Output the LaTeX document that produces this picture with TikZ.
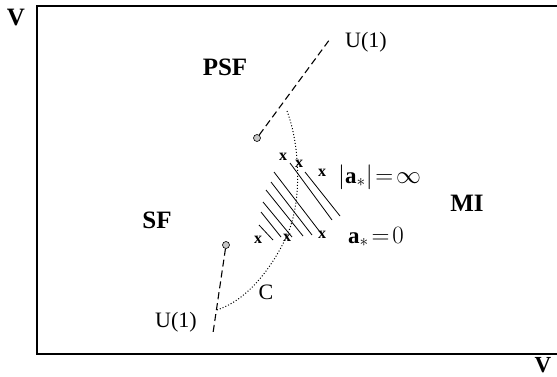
\documentclass[tikz,border=0pt]{standalone}
\usepackage{fontspec}
\setmainfont{Liberation Serif}
\usetikzlibrary{positioning,calc}

\begin{document}
\begin{tikzpicture}[
  x=1pt, y=-1pt,
  region/.style={font=\bfseries\fontsize{25}{25}\selectfont, inner sep=0pt},
  lbl/.style={font=\fontsize{22}{22}\selectfont, inner sep=0pt},
  xmk/.style={font=\bfseries\fontsize{16}{16}\selectfont, inner sep=0pt},
  endpt/.style={circle, draw, fill=gray!45, minimum size=7pt, inner sep=0pt, line width=0.6pt},
  branch/.style={dash pattern=on 7pt off 4pt, line width=1.1pt},
  crv/.style={dotted, line width=1pt},
  hatch/.style={line width=0.8pt},
]
  \useasboundingbox (0,0) rectangle (557,377);

  % Frame and axes
  \draw[line width=1.5pt] (600,6) -- (37,6) -- (37,354) -- (600,354);
  \node[region] (vax) at (16,18) {V};
  \node[region, font=\bfseries\fontsize{23}{23}\selectfont] (nuax) at (543,365) {V};

  % Phase labels
  \node[region] (psf) at (225,67) {PSF};
  \node[region] (sf) at (157,220) {SF};
  \node[region] (mi) at (467,203) {MI};

  % Branch end points
  \node[endpt] (ptop) at (257,138) {};
  \node[endpt] (pbot) at (226,245) {};
  \coordinate (utop) at (330,39);
  \coordinate (ubot) at (213,333);
  \node[lbl, anchor=west] (u1top) at (345,42) {U(1)};
  \node[lbl] (u1bot) at (176,322) {U(1)};

  \draw[branch] (ptop) -- (utop);
  \draw[branch] (pbot) -- (ubot);

  % Curve C
  \coordinate (ctop) at (287,111);
  \coordinate (cmid) at (288,233);
  \coordinate (cbot) at ($(pbot)!0.74!(ubot)$);
  \draw[crv] (ctop) .. controls (300,145) and (302,200) .. (cmid)
    .. controls (280,252) and (255,298) .. (cbot);
  \node[lbl] (clab) at (266,292) {C};

  % Hatched region
  \foreach \xa/\ya/\xb/\yb in {305/172/340/216, 290/163/332/220, 274/172/320/232,
      271/182/312/235, 266/190/303/236, 263/202/292/237, 261/212/281/237, 259/225/273/240}
    \draw[hatch] (\xa,\ya) -- (\xb,\yb);

  \foreach \px/\py [count=\i] in {283/157, 299/164, 322/173, 258/240, 287/238, 322/235}
    \node[xmk] (x\i) at (\px,\py) {x};

  \node[lbl, anchor=west, font=\fontsize{23}{23}\selectfont] (ainf) at (338,177) {$|\mathbf{a}_*|\!=\!\infty$};
  \node[lbl, anchor=west, font=\fontsize{23}{23}\selectfont] (azero) at (348,237) {$\mathbf{a}_*\!=\!0$};
\end{tikzpicture}
\end{document}
